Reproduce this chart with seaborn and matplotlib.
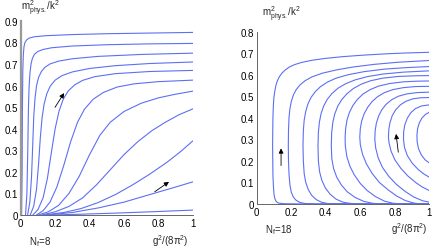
import numpy as np
import pandas as pd
import matplotlib
matplotlib.use('Agg')
import matplotlib.pyplot as plt
import seaborn as sns
from matplotlib.ticker import FuncFormatter

# Left panel (N_f = 8): each curve as (g^2/(8 pi^2), m^2/k^2) points
left_g = [
    [0.005, 0.008, 0.01, 0.012, 0.015, 0.019, 0.025, 0.035, 0.05, 0.08, 0.15, 0.3, 0.5, 0.75, 1.0],
    [0.028, 0.036, 0.041, 0.045, 0.049, 0.054, 0.06, 0.068, 0.08, 0.1, 0.13, 0.18, 0.3, 0.5, 0.75, 1.0],
    [0.04, 0.053, 0.063, 0.07, 0.076, 0.083, 0.092, 0.104, 0.12, 0.14, 0.17, 0.22, 0.3, 0.45, 0.7, 1.0],
    [0.055, 0.075, 0.092, 0.104, 0.114, 0.124, 0.136, 0.152, 0.172, 0.2, 0.24, 0.3, 0.4, 0.55, 0.75, 1.0],
    [0.07, 0.1, 0.13, 0.155, 0.178, 0.2, 0.222, 0.247, 0.277, 0.315, 0.36, 0.43, 0.55, 0.75, 1.0],
    [0.09, 0.13, 0.17, 0.21, 0.25, 0.29, 0.33, 0.37, 0.42, 0.48, 0.56, 0.66, 0.8, 1.0],
    [0.1, 0.16, 0.22, 0.28, 0.34, 0.4, 0.46, 0.52, 0.6, 0.7, 0.8, 0.9, 1.0],
    [0.12, 0.2, 0.28, 0.36, 0.44, 0.52, 0.6, 0.68, 0.76, 0.84, 0.92, 1.0],
    [0.13, 0.25, 0.35, 0.45, 0.55, 0.65, 0.75, 0.85, 0.93, 1.0],
    [0.15, 0.3, 0.45, 0.6, 0.75, 0.9, 1.0],
    [0.17, 0.35, 0.55, 0.75, 1.0],
]
left_m = [
    [0.0, 0.2, 0.5, 0.66, 0.74, 0.78, 0.8, 0.812, 0.82, 0.826, 0.831, 0.836, 0.84, 0.843, 0.846],
    [0.0, 0.1, 0.3, 0.5, 0.6, 0.66, 0.7, 0.726, 0.745, 0.758, 0.767, 0.775, 0.783, 0.789, 0.793, 0.795],
    [0.0, 0.06, 0.18, 0.33, 0.46, 0.54, 0.6, 0.638, 0.665, 0.684, 0.7, 0.713, 0.724, 0.735, 0.744, 0.75],
    [0.0, 0.04, 0.12, 0.24, 0.36, 0.45, 0.515, 0.563, 0.598, 0.625, 0.646, 0.663, 0.679, 0.692, 0.702, 0.709],
    [0.0, 0.025, 0.08, 0.17, 0.29, 0.4, 0.48, 0.537, 0.576, 0.604, 0.624, 0.641, 0.655, 0.665, 0.67],
    [0.0, 0.02, 0.06, 0.13, 0.23, 0.34, 0.43, 0.49, 0.536, 0.568, 0.593, 0.608, 0.618, 0.625],
    [0.0, 0.015, 0.045, 0.1, 0.18, 0.28, 0.37, 0.43, 0.48, 0.518, 0.543, 0.56, 0.574],
    [0.0, 0.015, 0.04, 0.08, 0.14, 0.21, 0.28, 0.34, 0.39, 0.43, 0.465, 0.492],
    [0.0, 0.012, 0.03, 0.058, 0.095, 0.14, 0.19, 0.245, 0.295, 0.344],
    [0.0, 0.012, 0.033, 0.06, 0.095, 0.13, 0.154],
    [0.0, 0.004, 0.009, 0.015, 0.023],
]

# Right panel (N_f = 18): curves traced from bottom-right to top-right
right_g = [
    [1.0, 0.25, 0.16, 0.125, 0.112, 0.105, 0.1, 0.097, 0.094, 0.093, 0.092, 0.093, 0.094, 0.096, 0.099,
     0.104, 0.111, 0.12, 0.132, 0.147, 0.165, 0.19, 0.22, 0.26, 0.32, 0.4, 0.5, 0.62, 0.75, 0.87, 1.0],
    [1.0, 0.34, 0.28, 0.25, 0.228, 0.212, 0.2, 0.192, 0.187, 0.184, 0.183, 0.184, 0.187, 0.192, 0.2,
     0.212, 0.228, 0.25, 0.28, 0.32, 0.38, 0.46, 0.56, 0.68, 0.82, 1.0],
    [1.0, 0.47, 0.41, 0.375, 0.345, 0.318, 0.298, 0.284, 0.275, 0.27, 0.268, 0.27, 0.275, 0.284, 0.297,
     0.315, 0.34, 0.37, 0.41, 0.46, 0.53, 0.62, 0.74, 0.87, 1.0],
    [1.0, 0.6, 0.545, 0.5, 0.46, 0.425, 0.397, 0.377, 0.364, 0.357, 0.355, 0.357, 0.363, 0.373, 0.388,
     0.408, 0.435, 0.47, 0.515, 0.57, 0.64, 0.73, 0.85, 1.0],
    [1.0, 0.72, 0.67, 0.62, 0.57, 0.525, 0.49, 0.463, 0.445, 0.435, 0.432, 0.434, 0.441, 0.453, 0.47,
     0.493, 0.523, 0.56, 0.605, 0.66, 0.73, 0.82, 0.92, 1.0],
    [1.0, 0.84, 0.79, 0.74, 0.69, 0.64, 0.6, 0.565, 0.54, 0.522, 0.513, 0.512, 0.515, 0.523, 0.537,
     0.557, 0.583, 0.615, 0.655, 0.705, 0.77, 0.85, 0.93, 1.0],
    [1.0, 0.95, 0.91, 0.86, 0.81, 0.76, 0.71, 0.67, 0.636, 0.613, 0.6, 0.597, 0.6, 0.608, 0.622,
     0.642, 0.668, 0.7, 0.74, 0.79, 0.85, 0.92, 1.0],
    [1.0, 0.96, 0.91, 0.86, 0.81, 0.765, 0.728, 0.703, 0.689, 0.684, 0.686, 0.693, 0.706, 0.725, 0.75,
     0.782, 0.82, 0.87, 0.93, 1.0],
    [1.0, 0.96, 0.92, 0.875, 0.835, 0.8, 0.778, 0.766, 0.763, 0.765, 0.772, 0.785, 0.805, 0.832, 0.865,
     0.905, 0.95, 1.0],
    [1.0, 0.97, 0.935, 0.9, 0.872, 0.856, 0.85, 0.851, 0.858, 0.872, 0.893, 0.92, 0.955, 1.0],
    [1.0, 0.975, 0.953, 0.937, 0.929, 0.928, 0.932, 0.942, 0.958, 0.978, 1.0],
]
right_m = [
    [0.0, 0.0, 0.001, 0.004, 0.012, 0.025, 0.045, 0.08, 0.13, 0.2, 0.27, 0.35, 0.4, 0.45, 0.49,
     0.52, 0.55, 0.572, 0.592, 0.608, 0.622, 0.636, 0.647, 0.657, 0.667, 0.676, 0.684, 0.691, 0.697, 0.701, 0.704],
    [0.0, 0.0, 0.002, 0.007, 0.017, 0.032, 0.055, 0.09, 0.14, 0.2, 0.27, 0.34, 0.4, 0.44, 0.475,
     0.505, 0.53, 0.552, 0.572, 0.59, 0.607, 0.622, 0.636, 0.648, 0.658, 0.666],
    [0.0, 0.0, 0.002, 0.008, 0.02, 0.04, 0.068, 0.1, 0.14, 0.2, 0.27, 0.34, 0.39, 0.43, 0.465,
     0.495, 0.522, 0.545, 0.566, 0.584, 0.6, 0.614, 0.626, 0.633, 0.638],
    [0.0, 0.0, 0.002, 0.008, 0.022, 0.045, 0.075, 0.11, 0.15, 0.2, 0.27, 0.33, 0.38, 0.42, 0.455,
     0.485, 0.512, 0.537, 0.558, 0.576, 0.591, 0.603, 0.612, 0.618],
    [0.0, 0.0, 0.003, 0.012, 0.03, 0.056, 0.088, 0.125, 0.165, 0.21, 0.27, 0.33, 0.38, 0.42, 0.455,
     0.485, 0.512, 0.536, 0.556, 0.572, 0.584, 0.592, 0.595, 0.596],
    [0.0, 0.0, 0.003, 0.013, 0.033, 0.062, 0.095, 0.135, 0.175, 0.22, 0.27, 0.31, 0.35, 0.39, 0.425,
     0.457, 0.485, 0.51, 0.53, 0.547, 0.559, 0.567, 0.57, 0.571],
    [0.0, 0.0, 0.004, 0.016, 0.037, 0.066, 0.1, 0.14, 0.185, 0.23, 0.275, 0.31, 0.35, 0.385, 0.418,
     0.448, 0.475, 0.498, 0.517, 0.531, 0.54, 0.545, 0.546],
    [0.008, 0.015, 0.032, 0.058, 0.09, 0.128, 0.17, 0.215, 0.26, 0.3, 0.34, 0.375, 0.408, 0.438, 0.463,
     0.484, 0.5, 0.511, 0.517, 0.519],
    [0.062, 0.078, 0.1, 0.13, 0.165, 0.205, 0.245, 0.285, 0.31, 0.345, 0.378, 0.41, 0.437, 0.46, 0.477,
     0.488, 0.493, 0.494],
    [0.124, 0.138, 0.16, 0.19, 0.225, 0.262, 0.3, 0.335, 0.368, 0.398, 0.424, 0.443, 0.455, 0.46],
    [0.19, 0.205, 0.228, 0.257, 0.29, 0.32, 0.35, 0.377, 0.4, 0.416, 0.426],
]

left_arrows = [((0.199, 0.499), (0.252, 0.565)), ((0.778, 0.108), (0.861, 0.154))]
right_arrows = [((0.141, 0.178), (0.141, 0.258)), ((0.82, 0.24), (0.807, 0.325))]


def to_frame(gs, ms):
    rows = []
    for i, (g, m) in enumerate(zip(gs, ms)):
        for k, (a, b) in enumerate(zip(g, m)):
            rows.append({'curve': i, 'order': k, 'g': a, 'm': b})
    return pd.DataFrame(rows)


sns.set_style('white')
plt.rcParams['font.family'] = ['Liberation Sans', 'DejaVu Sans']
plt.rcParams['mathtext.fontset'] = 'custom'
plt.rcParams['mathtext.rm'] = 'Liberation Sans'
plt.rcParams['mathtext.it'] = 'Liberation Sans'

line_color = '#5d6ff4'
fig = plt.figure(figsize=(4.36, 2.53), dpi=100)
ax1 = fig.add_axes([0.0475, 0.146, 0.395, 0.768])
ax2 = fig.add_axes([0.5888, 0.19, 0.396, 0.681])

fmt = FuncFormatter(lambda v, p: f'{v:g}')

panels = [
    (ax1, left_g, left_m, left_arrows, 0.9, 'N$_\\mathregular{f}$=8', (29, 245), (152, 245), (21, 11)),
    (ax2, right_g, right_m, right_arrows, 0.8, 'N$_\\mathregular{f}$=18', (265, 233), (391, 233), (262, 17)),
]

for ax, gs, ms, arrows, ytop, nlabel, npos, xpos, ypos in panels:
    df = to_frame(gs, ms)
    sns.lineplot(data=df, x='g', y='m', units='curve', estimator=None, sort=False,
                 color=line_color, linewidth=0.8, ax=ax, legend=False)
    for start, end in arrows:
        ax.annotate('', xy=end, xytext=start,
                    arrowprops=dict(arrowstyle='-|>', color='k', lw=0.6,
                                    mutation_scale=7, shrinkA=0, shrinkB=0))
    ax.set_xlim(0, 1)
    ax.set_ylim(0, ytop)
    ax.set_xticks(np.arange(0, 1.01, 0.2))
    ax.set_yticks(np.arange(0, ytop + 0.001, 0.1))
    ax.xaxis.set_major_formatter(fmt)
    ax.yaxis.set_major_formatter(fmt)
    ax.tick_params(direction='in', length=2.5, width=0.6, labelsize=7, pad=2,
                   colors='#555555', labelcolor='black')
    ax.set_xlabel('')
    ax.set_ylabel('')
    sns.despine(ax=ax)
    for s in ['left', 'bottom']:
        ax.spines[s].set_color('#666666')
        ax.spines[s].set_linewidth(0.7)
    fig.text(npos[0] / 436, 1 - npos[1] / 253, nlabel, fontsize=7, va='baseline')
    fig.text(xpos[0] / 436, 1 - xpos[1] / 253, 'g$^\\mathregular{2}$/(8\u03c0$^\\mathregular{2}$)',
             fontsize=7, va='baseline')
    fig.text(ypos[0] / 436, 1 - ypos[1] / 253,
             'm$^\\mathregular{2}_\\mathregular{phys.}$/k$^\\mathregular{2}$',
             fontsize=7, va='baseline')

ax1.spines['left'].set_color('#999999')
ax1.spines['left'].set_linewidth(1.6)

fig.savefig('out.png', dpi=100)
